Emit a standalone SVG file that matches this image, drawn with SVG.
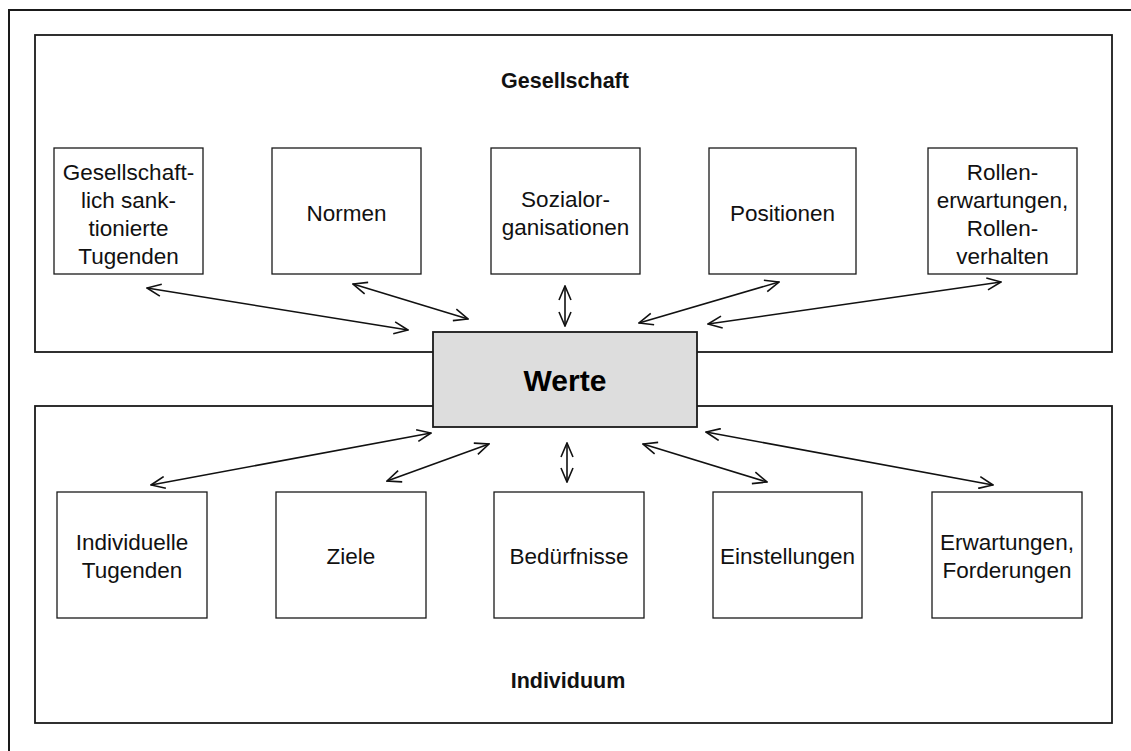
<svg xmlns="http://www.w3.org/2000/svg" width="1131" height="751" viewBox="0 0 1131 751">
<defs>
<style>
.frame{fill:none;stroke:#1a1a1a;stroke-width:2}
.sec{fill:#fff;stroke:#1a1a1a;stroke-width:1.8}
.box{fill:#fff;stroke:#1a1a1a;stroke-width:1.3}
.core{fill:#dddddd;stroke:#1a1a1a;stroke-width:1.8}
.lbl{font-family:"Liberation Sans",Arial,sans-serif;font-size:22.5px;fill:#111;text-anchor:middle}
.ttl{font-family:"Liberation Sans",Arial,sans-serif;font-size:21.5px;font-weight:bold;fill:#111;text-anchor:middle}
.big{font-family:"Liberation Sans",Arial,sans-serif;font-size:30px;font-weight:bold;fill:#000;text-anchor:middle}
.arr{fill:none;stroke:#111;stroke-width:1.6;marker-start:url(#ah);marker-end:url(#ah)}
</style>
<marker id="ah" viewBox="0 0 16 14" refX="15" refY="7" markerWidth="16" markerHeight="14" markerUnits="userSpaceOnUse" orient="auto-start-reverse">
<path d="M1,1 L15,7 L1,13" fill="none" stroke="#111" stroke-width="1.6"/>
</marker>
</defs>
<rect class="frame" x="9" y="10" width="1200" height="800"/>
<g id="gesellschaft">
<rect class="sec" x="35" y="35" width="1077" height="317"/>
<text class="ttl" x="565" y="88">Gesellschaft</text>
</g>
<g id="individuum">
<rect class="sec" x="35" y="406" width="1077" height="317"/>
<text class="ttl" x="568" y="688">Individuum</text>
</g>
<g id="n-tugenden-ges">
<rect class="box" x="54" y="148" width="149" height="126"/>
<text class="lbl" x="128.5" y="180">Gesellschaft-</text>
<text class="lbl" x="128.5" y="208">lich sank-</text>
<text class="lbl" x="128.5" y="236">tionierte</text>
<text class="lbl" x="128.5" y="264">Tugenden</text>
</g>
<g id="n-normen">
<rect class="box" x="272" y="148" width="149" height="126"/>
<text class="lbl" x="346.5" y="221">Normen</text>
</g>
<g id="n-sozial">
<rect class="box" x="491" y="148" width="149" height="126"/>
<text class="lbl" x="565.5" y="207">Sozialor-</text>
<text class="lbl" x="565.5" y="235">ganisationen</text>
</g>
<g id="n-positionen">
<rect class="box" x="709" y="148" width="147" height="126"/>
<text class="lbl" x="782.5" y="221">Positionen</text>
</g>
<g id="n-rollen">
<rect class="box" x="928" y="148" width="149" height="126"/>
<text class="lbl" x="1002.5" y="180">Rollen-</text>
<text class="lbl" x="1002.5" y="208">erwartungen,</text>
<text class="lbl" x="1002.5" y="236">Rollen-</text>
<text class="lbl" x="1002.5" y="264">verhalten</text>
</g>
<g id="n-werte">
<rect class="core" x="433" y="332" width="264" height="95"/>
<text class="big" x="565" y="391">Werte</text>
</g>
<g id="n-tugenden-ind">
<rect class="box" x="57" y="492" width="150" height="126"/>
<text class="lbl" x="132" y="550">Individuelle</text>
<text class="lbl" x="132" y="578">Tugenden</text>
</g>
<g id="n-ziele">
<rect class="box" x="276" y="492" width="150" height="126"/>
<text class="lbl" x="351" y="564">Ziele</text>
</g>
<g id="n-beduerfnisse">
<rect class="box" x="494" y="492" width="150" height="126"/>
<text class="lbl" x="569" y="564">Bedürfnisse</text>
</g>
<g id="n-einstellungen">
<rect class="box" x="713" y="492" width="149" height="126"/>
<text class="lbl" x="787.5" y="564">Einstellungen</text>
</g>
<g id="n-erwartungen">
<rect class="box" x="932" y="492" width="150" height="126"/>
<text class="lbl" x="1007" y="550">Erwartungen,</text>
<text class="lbl" x="1007" y="578">Forderungen</text>
</g>
<g id="connectors">
<line class="arr" x1="147" y1="288" x2="408" y2="330"/>
<line class="arr" x1="353" y1="284" x2="468" y2="319"/>
<line class="arr" x1="565" y1="286" x2="565" y2="326"/>
<line class="arr" x1="639" y1="323" x2="779" y2="282"/>
<line class="arr" x1="708" y1="324" x2="1001" y2="282"/>
<line class="arr" x1="431" y1="433" x2="151" y2="485"/>
<line class="arr" x1="489" y1="444" x2="387" y2="481"/>
<line class="arr" x1="567" y1="443" x2="567" y2="482"/>
<line class="arr" x1="643" y1="444" x2="767" y2="482"/>
<line class="arr" x1="706" y1="432" x2="993" y2="485"/>
</g>
</svg>
